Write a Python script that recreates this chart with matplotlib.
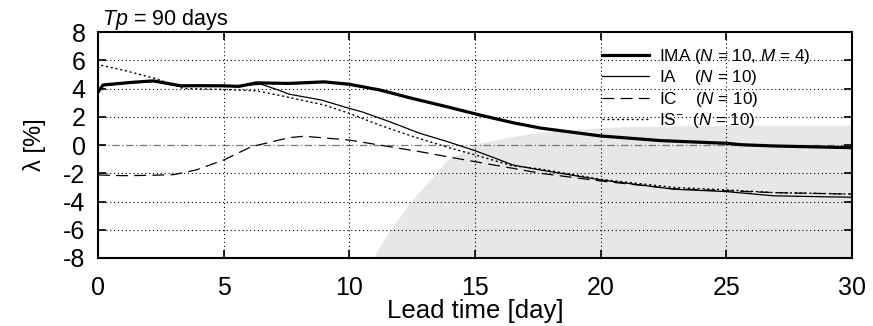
import matplotlib
matplotlib.use("Agg")
import matplotlib.pyplot as plt

plt.rcParams['font.family'] = ['Liberation Sans', 'DejaVu Sans']
plt.rcParams['mathtext.fontset'] = 'custom'
plt.rcParams['mathtext.rm'] = 'Liberation Sans'
plt.rcParams['mathtext.it'] = 'Liberation Sans:italic'
plt.rcParams['axes.unicode_minus'] = False

# Data
ima_x = [0, 0.2, 1.3, 2.2, 3.3, 4, 5, 5.6, 6.3, 7.6, 9, 10, 11.2, 12.5, 13.9, 15.2, 16.5, 17.6, 20, 22.4, 25, 25.6, 26.9, 30]
ima_y = [3.75, 4.25, 4.43, 4.54, 4.19, 4.2, 4.19, 4.15, 4.4, 4.36, 4.47, 4.3, 3.9, 3.3, 2.7, 2.12, 1.58, 1.2, 0.64, 0.31, 0.12, 0.02, -0.07, -0.19]

ia_x = [0, 0.2, 1.3, 2.2, 3.3, 5, 6.5, 7.24, 7.6, 8.9, 10, 10.5, 11.6, 12.8, 13.9, 15, 15.9, 16.5, 17.6, 20, 22.9, 25, 26.9, 30]
ia_y = [3.75, 4.2, 4.4, 4.5, 4.15, 4.15, 4.3, 3.85, 3.6, 3.18, 2.59, 2.35, 1.65, 0.83, 0.24, -0.4, -1.0, -1.41, -1.77, -2.47, -3.13, -3.3, -3.6, -3.7]

ic_x = [0, 1, 2, 3, 3.9, 5, 6.1, 7.6, 8.2, 10, 11.6, 12.8, 13.9, 15, 16.5, 17.6, 20, 22.9, 26.9, 30]
ic_y = [-2.12, -2.17, -2.15, -2.1, -1.77, -1.06, -0.12, 0.52, 0.62, 0.35, -0.12, -0.47, -0.83, -1.18, -1.65, -2.0, -2.55, -3.1, -3.37, -3.48]

is_x = [0, 0.1, 1, 2.3, 3.4, 5, 6.3, 7.5, 9, 10, 11.2, 12.55, 13.9, 15, 16.5, 17.6, 20, 22.9, 25, 26.9, 30]
is_y = [5.41, 5.65, 5.3, 4.7, 4.0, 3.93, 3.84, 3.41, 2.83, 2.24, 1.41, 0.59, -0.16, -0.7, -1.48, -1.7, -2.43, -3.0, -3.18, -3.37, -3.47]

shade_x = [10.94, 11.5, 12.5, 13.9, 15.2, 16.5, 17.6, 19.3, 21, 25, 30]
shade_y = [-8, -6.3, -3.9, -1.06, 0.14, 0.6, 0.92, 1.15, 1.3, 1.4, 1.4]

x_ticks = [0, 5, 10, 15, 20, 25, 30]
y_ticks = [-8, -6, -4, -2, 0, 2, 4, 6, 8]

labels = [r"IMA ($N$ = 10, $M$ = 4)", r"IA    ($N$ = 10)", r"IC    ($N$ = 10)", r"IS$^{-}$  ($N$ = 10)"]

fig = plt.figure(figsize=(8.73, 3.26), dpi=100)
ax = fig.add_axes([0.1123, 0.2086, 0.8637, 0.6932])

ax.fill_between(shade_x, shade_y, -8, color='#e6e7e8', lw=0, zorder=0)

for yv in y_ticks:
    if yv in (-8, 8):
        continue
    if yv == 0:
        ax.axhline(0, color='#777777', lw=0.9, ls=(0, (6, 2, 1, 2)), zorder=1)
    else:
        ax.axhline(yv, color='black', lw=0.8, ls=(0, (1, 2.5)), zorder=1)
for xv in x_ticks[1:-1]:
    ax.axvline(xv, color='black', lw=0.8, ls=(0, (1, 2.5)), zorder=1)

l1, = ax.plot(ima_x, ima_y, color='black', lw=2.3, zorder=5)
l2, = ax.plot(ia_x, ia_y, color='black', lw=0.9, zorder=4)
l3, = ax.plot(ic_x, ic_y, color='black', lw=0.9, ls=(0, (9.5, 5)), zorder=4)
l4, = ax.plot(is_x, is_y, color='black', lw=1.0, ls=(0, (1.5, 2)), zorder=4)

ax.set_xlim(0, 30)
ax.set_ylim(-8, 8)
ax.set_xticks(x_ticks)
ax.set_yticks(y_ticks)
ax.tick_params(direction='in', length=6, width=1.2, labelsize=18, top=True, right=True)
ax.tick_params(axis='x', pad=13)
ax.tick_params(axis='y', pad=9)
for s in ax.spines.values():
    s.set_linewidth(1.5)

ax.set_xlabel("Lead time [day]", fontsize=18.5, labelpad=-1)
ax.set_ylabel("λ [%]", fontsize=17, labelpad=12)

ax.text(0.005, 1.0, r"$Tp$ = 90 days", transform=ax.transAxes, fontsize=15.5, ha='left', va='bottom')

leg = ax.legend([l1, l2, l3, l4], labels, loc='upper right', bbox_to_anchor=(0.958, 0.98),
                frameon=False, fontsize=12.3, handlelength=2.8, labelspacing=0.14,
                handletextpad=0.55, borderaxespad=0.2)

fig.savefig("out.png", dpi=100)
